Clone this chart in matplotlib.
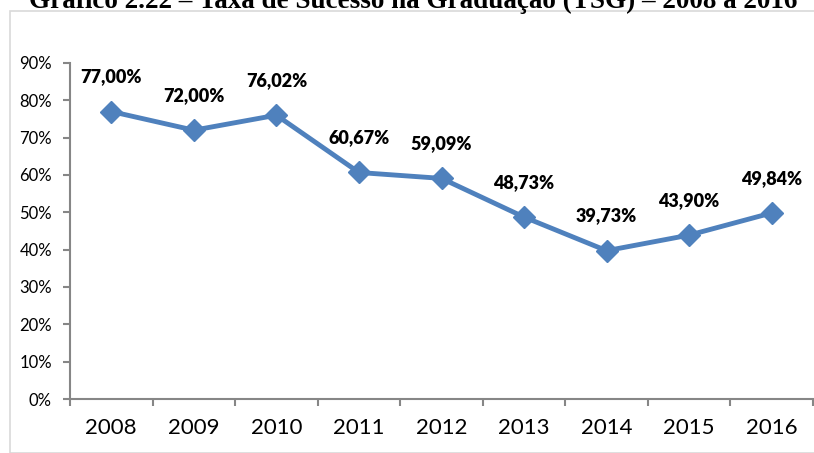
import matplotlib.pyplot as plt
from matplotlib.patches import Rectangle

years = ['2008', '2009', '2010', '2011', '2012', '2013', '2014', '2015', '2016']
tsg = [0.77, 0.72, 0.7602, 0.6067, 0.5909, 0.4873, 0.3973, 0.4390, 0.4984]
tsg_labels = ['77,00%', '72,00%', '76,02%', '60,67%', '59,09%', '48,73%', '39,73%', '43,90%', '49,84%']
y_ticks = [0, 0.1, 0.2, 0.3, 0.4, 0.5, 0.6, 0.7, 0.8, 0.9]

fig = plt.figure(figsize=(8.14, 4.53), dpi=100)
ax = fig.add_axes([70 / 814, 1 - 399 / 453, 743 / 814, 336 / 453])

# chart frame (cut off at the right edge)
fig.patches.append(Rectangle((10 / 814, 0), 1.2, 1 - 11 / 453, transform=fig.transFigure,
                             fill=False, edgecolor='#D9D9D9', linewidth=1.2))

# title is cut off at the top, as in the source image
fig.text(0.508, 1 - 8 / 453, 'Gráfico 2.22 – Taxa de Sucesso na Graduação (TSG) – 2008 a 2016',
         ha='center', va='baseline', family='Liberation Serif', weight='bold', fontsize=19.5)

x = range(len(years))
ax.plot(x, tsg, color='#4F81BD', linewidth=3.5, marker='D', markersize=11, zorder=3)
for xi, v, lab in zip(x, tsg, tsg_labels):
    ax.annotate(lab, (xi, v), xytext=(0, 25), textcoords='offset points',
                ha='center', va='center', family='Lato', weight='heavy', fontsize=13)

ax.set_xlim(-0.5, len(years) - 0.5)
ax.set_ylim(0, 0.9)
ax.set_yticks(y_ticks)
ax.set_yticklabels([f'{int(round(t * 100))}%' for t in y_ticks], family='Lato', fontsize=12)
ax.set_xticks(list(x))
ax.set_xticklabels(years, family='Lato', fontsize=16)
ax.set_xticks([i - 0.5 for i in range(len(years) + 1)], minor=True)
ax.tick_params(axis='x', which='major', length=0, pad=14)
ax.tick_params(axis='x', which='minor', length=5, width=1.5, color='#868686')
ax.tick_params(axis='y', length=5, width=1.5, color='#868686', pad=8)

for s in ['top', 'right']:
    ax.spines[s].set_visible(False)
for s in ['left', 'bottom']:
    ax.spines[s].set_color('#868686')
    ax.spines[s].set_linewidth(1.5)

fig.savefig('out.png', dpi=100)
